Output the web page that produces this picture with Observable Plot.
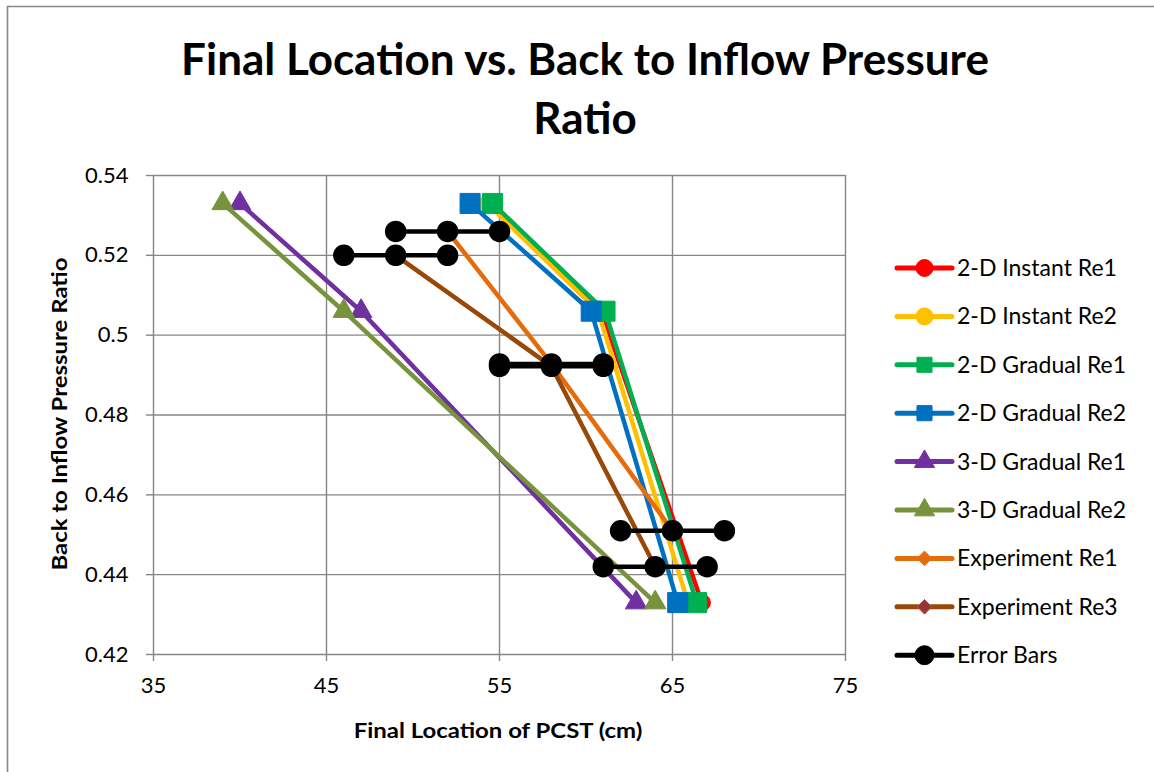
<!DOCTYPE html>
<html>
<head>
<meta charset="utf-8">
<script src="https://cdn.jsdelivr.net/npm/d3@7"></script>
<script src="https://cdn.jsdelivr.net/npm/@observablehq/plot@0.6"></script>
<style>
  html, body { margin: 0; padding: 0; background: #fff; }
  #chart { width: 1154px; height: 772px; }
</style>
</head>
<body>
<div id="chart"></div>
<script>
// ---- data ----
const simY = [0.533, 0.506, 0.433];
const inst1X = [54.4, 60.9, 66.7];
const inst2X = [54.3, 60.7, 65.9];
const grad1X = [54.6, 61.1, 66.4];
const grad2X = [53.3, 60.3, 65.3];
const grad3d1X = [40, 47, 62.9];
const grad3d2X = [39, 46, 64];
const exp1X = [52, 58, 65];
const exp1Y = [0.526, 0.4928, 0.451];
const exp3X = [49, 58, 64];
const exp3Y = [0.52, 0.4922, 0.442];
const errHalf = 3; // +/- cm, error bar half width
const xTicks = [35, 45, 55, 65, 75];
const yTicks = [0.42, 0.44, 0.46, 0.48, 0.5, 0.52, 0.54];

const seriesNames = ["2-D Instant Re1", "2-D Instant Re2", "2-D Gradual Re1", "2-D Gradual Re2",
  "3-D Gradual Re1", "3-D Gradual Re2", "Experiment Re1", "Experiment Re3", "Error Bars"];
const seriesColors = ["#FF0000", "#FFC000", "#00B050", "#0070C0", "#7030A0", "#77933C", "#E46C0A", "#984807", "#000000"];
const markerFill = ["#FF0000", "#FFC000", "#00B050", "#0070C0", "#7030A0", "#77933C", "#E46C0A", "#953735", "#000000"];
const markerStroke = ["#FF0000", "#FFC000", "#00B050", "#0070C0", "#7030A0", "#77933C", "#E46C0A", "#C0504D", "#000000"];
const markerSymbol = ["circle", "circle", "square", "square", "triangle", "triangle", "diamond2", "diamond2", "circle"];
const markerR = [8.5, 8.5, 11.3, 11.3, 8, 8, 6.4, 6.4, 10];

// ---- build tables ----
const xsList = [inst1X, inst2X, grad1X, grad2X, grad3d1X, grad3d2X, exp1X, exp3X];
const ysList = [simY, simY, simY, simY, simY, simY, exp1Y, exp3Y];
const seriesData = xsList.map((xs, i) => xs.map((x, j) => ({x, y: ysList[i][j], s: seriesNames[i]})));

const errData = [];
[[exp1X, exp1Y], [exp3X, exp3Y]].forEach(([xs, ys], k) => {
  xs.forEach((x, j) => {
    const g = `e${k}-${j}`;
    [x - errHalf, x, x + errHalf].forEach(v => errData.push({x: v, y: ys[j], g}));
  });
});

const W = 1154, H = 772;
const font = "Lato, 'Open Sans', sans-serif";
const marks = [
  Plot.gridX(xTicks, {stroke: "#868686", strokeOpacity: 1, strokeWidth: 1.4}),
  Plot.gridY(yTicks, {stroke: "#868686", strokeOpacity: 1, strokeWidth: 1.4}),
  Plot.axisX(xTicks, {tickSize: 7, tickPadding: 16, stroke: "#868686", strokeWidth: 1.4, fontSize: 22, fill: "#000", label: null}),
  Plot.axisY(yTicks, {tickSize: 7, tickPadding: 18, stroke: "#868686", strokeWidth: 1.4, fontSize: 22, fill: "#000", label: null, tickFormat: d => String(d)})
];
seriesData.forEach((d, i) => {
  marks.push(Plot.line(d, {x: "x", y: "y", stroke: seriesColors[i], strokeWidth: 4.5, strokeLinejoin: "round", strokeLinecap: "butt"}));
  marks.push(Plot.dot(d, {x: "x", y: "y", symbol: markerSymbol[i], r: markerR[i], fill: markerFill[i], stroke: markerStroke[i], strokeWidth: 1}));
});
marks.push(Plot.line(errData, {x: "x", y: "y", z: "g", stroke: "#000", strokeWidth: 4.5}));
marks.push(Plot.dot(errData, {x: "x", y: "y", r: 10, fill: "#000", stroke: "#000"}));

const svgPlot = Plot.plot({
  width: W, height: H,
  marginLeft: 153, marginRight: W - 845, marginTop: 175, marginBottom: H - 654,
  x: {domain: [35, 75], label: null},
  y: {domain: [0.42, 0.54], label: null},
  style: {fontFamily: font, background: "#fff", color: "#000"},
  marks
});
document.getElementById("chart").appendChild(svgPlot);

// ---- decorations: border, title, axis titles, legend ----
const svg = d3.select(svgPlot);
svg.append("path").attr("d", `M7.5,${H} V6.5 H${W}`).attr("fill", "none").attr("stroke", "#888").attr("stroke-width", 1.6);

const title = svg.append("text").attr("text-anchor", "middle").attr("font-family", font)
  .attr("font-weight", "bold").attr("font-size", 44).attr("fill", "#000");
title.append("tspan").attr("x", 585).attr("y", 75).text("Final Location vs. Back to Inflow Pressure");
title.append("tspan").attr("x", 585).attr("y", 134).text("Ratio");

svg.append("text").attr("transform", "translate(498,738) scale(1.14,1)").attr("text-anchor", "middle").attr("font-family", font)
  .attr("font-weight", "bold").attr("font-size", 21).attr("fill", "#000").text("Final Location of PCST (cm)");
svg.append("text").attr("transform", "translate(67,414) rotate(-90) scale(1.14,1)").attr("text-anchor", "middle").attr("font-family", font)
  .attr("font-weight", "bold").attr("font-size", 21).attr("fill", "#000").text("Back to Inflow Pressure Ratio");

const symMap = {circle: d3.symbolCircle, square: d3.symbolSquare, triangle: d3.symbolTriangle, diamond2: d3.symbolDiamond2};
const legR = [8.5, 8.5, 8.5, 8.5, 7.5, 7.5, 6.6, 6.6, 9.5];
const leg = svg.append("g");
seriesNames.forEach((name, i) => {
  const y = 268 + i * 48.4;
  const g = leg.append("g").attr("transform", `translate(0,${y})`);
  g.append("line").attr("x1", 897).attr("x2", 952).attr("y1", 0).attr("y2", 0)
    .attr("stroke", seriesColors[i]).attr("stroke-width", 5).attr("stroke-linecap", "round");
  g.append("path").attr("transform", "translate(924.5,0)")
    .attr("d", d3.symbol(symMap[markerSymbol[i]], Math.PI * legR[i] * legR[i])())
    .attr("fill", markerFill[i]).attr("stroke", markerStroke[i]).attr("stroke-width", 1);
  g.append("text").attr("x", 957).attr("y", 0).attr("dy", "0.35em").attr("text-anchor", "start").attr("font-family", font)
    .attr("font-size", 23).attr("fill", "#000").text(name);
});
</script>
</body>
</html>
